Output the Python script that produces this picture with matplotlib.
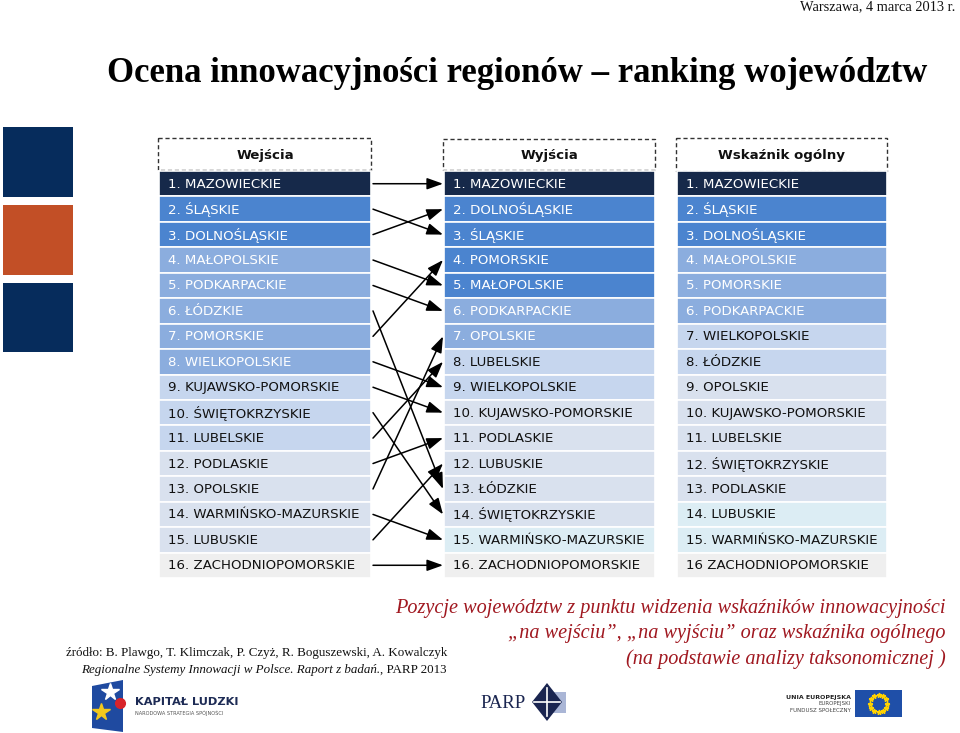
import matplotlib
matplotlib.use("Agg")
import matplotlib.pyplot as plt
from matplotlib.patches import Rectangle, Polygon
import numpy as np

# ---------------- data ----------------
headers = ["Wejścia", "Wyjścia", "Wskaźnik ogólny"]

wejscia_labels = [
    "1. MAZOWIECKIE", "2. ŚLĄSKIE", "3. DOLNOŚLĄSKIE", "4. MAŁOPOLSKIE",
    "5. PODKARPACKIE", "6. ŁÓDZKIE", "7. POMORSKIE", "8. WIELKOPOLSKIE",
    "9. KUJAWSKO-POMORSKIE", "10. ŚWIĘTOKRZYSKIE", "11. LUBELSKIE",
    "12. PODLASKIE", "13. OPOLSKIE", "14. WARMIŃSKO-MAZURSKIE",
    "15. LUBUSKIE", "16. ZACHODNIOPOMORSKIE",
]
wyjscia_labels = [
    "1. MAZOWIECKIE", "2. DOLNOŚLĄSKIE", "3. ŚLĄSKIE", "4. POMORSKIE",
    "5. MAŁOPOLSKIE", "6. PODKARPACKIE", "7. OPOLSKIE", "8. LUBELSKIE",
    "9. WIELKOPOLSKIE", "10. KUJAWSKO-POMORSKIE", "11. PODLASKIE",
    "12. LUBUSKIE", "13. ŁÓDZKIE", "14. ŚWIĘTOKRZYSKIE",
    "15. WARMIŃSKO-MAZURSKIE", "16. ZACHODNIOPOMORSKIE",
]
ogolny_labels = [
    "1. MAZOWIECKIE", "2. ŚLĄSKIE", "3. DOLNOŚLĄSKIE", "4. MAŁOPOLSKIE",
    "5. POMORSKIE", "6. PODKARPACKIE", "7. WIELKOPOLSKIE", "8. ŁÓDZKIE",
    "9. OPOLSKIE", "10. KUJAWSKO-POMORSKIE", "11. LUBELSKIE",
    "12. ŚWIĘTOKRZYSKIE", "13. PODLASKIE", "14. LUBUSKIE",
    "15. WARMIŃSKO-MAZURSKIE", "16 ZACHODNIOPOMORSKIE",
]

# shading group of each row (0 = darkest)
wejscia_groups = [0, 1, 1, 2, 2, 2, 2, 2, 3, 3, 3, 4, 4, 4, 4, 6]
wyjscia_groups = [0, 1, 1, 1, 1, 2, 2, 3, 3, 4, 4, 4, 4, 4, 5, 6]
ogolny_groups = [0, 1, 1, 2, 2, 2, 3, 3, 4, 4, 4, 4, 4, 5, 5, 6]

title = "Ocena innowacyjności regionów – ranking województw"
date_text = "Warszawa, 4 marca 2013 r."
caption_lines = [
    "Pozycje województw z punktu widzenia wskaźników innowacyjności",
    "„na wejściu”, „na wyjściu” oraz wskaźnika ogólnego",
    "(na podstawie analizy taksonomicznej )",
]
source_line1 = "źródło: B. Plawgo, T. Klimczak, P. Czyż, R. Boguszewski, A. Kowalczyk"
source_line2_italic = "Regionalne Systemy Innowacji w Polsce. Raport z badań."
source_line2_normal = ", PARP 2013"

# ---------------- style ----------------
group_colors = ["#16294a", "#4b84cf", "#8badde", "#c6d6ee", "#d9e1ee", "#dcedf4", "#efefef"]
group_text = ["white", "white", "white", "#111111", "#111111", "#111111", "#111111"]

W, H = 960, 733
fig = plt.figure(figsize=(W / 100, H / 100), dpi=100)
ax = fig.add_axes([0, 0, 1, 1])
ax.set_xlim(0, W)
ax.set_ylim(H, 0)
ax.axis("off")

# left decorative squares
for (y0, y1, c) in [(127, 197, "#062c5c"), (205, 275, "#c24f26"), (283, 352, "#062c5c")]:
    ax.add_patch(Rectangle((3, y0), 70, y1 - y0, color=c, lw=0))

# columns
columns = [
    (wejscia_labels, wejscia_groups, 159, 371, 138, 170),
    (wyjscia_labels, wyjscia_groups, 444, 655, 139, 170),
    (ogolny_labels, ogolny_groups, 677, 887, 138, 171),
]
row_top, row_bot = 171, 578
n = 16
rh = (row_bot - row_top) / n

def row_center(i):
    return row_top + (i + 0.5) * rh

for ci, (labels, groups, x0, x1, hy0, hy1) in enumerate(columns):
    # dashed header box
    ax.add_patch(Rectangle((x0 - 1, hy0), (x1 - x0) + 1, hy1 - hy0, facecolor="white",
                           edgecolor="#333333", lw=1.0, linestyle=(0, (3, 2))))
    ax.text((x0 + x1) / 2, (hy0 + hy1) / 2 + 1, headers[ci], ha="center", va="center",
            fontsize=9.6, fontweight="bold", color="#111111", family="DejaVu Sans")
    for i, (lab, g) in enumerate(zip(labels, groups)):
        y = row_top + i * rh
        ax.add_patch(Rectangle((x0, y), x1 - x0, rh, facecolor=group_colors[g],
                               edgecolor="white", lw=1.2))
        ax.text(x0 + 9, row_center(i) + 0.5, lab, ha="left", va="center", fontsize=9.6,
                color=group_text[g], family="DejaVu Sans")

# arrows from inputs ranking to outputs ranking
names_in = [l.split(" ", 1)[1] for l in wejscia_labels]
names_out = [l.split(" ", 1)[1] for l in wyjscia_labels]
for i, name in enumerate(names_in):
    j = names_out.index(name)
    ax.annotate("", xy=(443, row_center(j)), xytext=(373, row_center(i)),
                arrowprops=dict(arrowstyle="-|>,head_length=0.7,head_width=0.25",
                                color="black", lw=1.1,
                                mutation_scale=14, shrinkA=0, shrinkB=0))

# titles
ax.text(955, 7, date_text, ha="right", va="center", fontsize=10.4,
        family="Liberation Serif", color="#111111")
ax.text(517, 73, title, ha="center", va="center", fontsize=25, fontweight="bold",
        family="Liberation Serif", color="black")

# red caption
for k, line in enumerate(caption_lines):
    ax.text(946, 608 + k * 25.5, line, ha="right", va="center", fontsize=14.6,
            style="italic", family="Liberation Serif", color="#a01820")

# source
ax.text(447, 653, source_line1, ha="right", va="center", fontsize=9.4,
        family="Liberation Serif", color="#111111")
fig.canvas.draw()
r = fig.canvas.get_renderer()
t2 = ax.text(447, 670, source_line2_normal, ha="right", va="center", fontsize=9.4,
             family="Liberation Serif", color="#111111")
bb = t2.get_window_extent(renderer=r)
xleft = ax.transData.inverted().transform((bb.x0, bb.y0))[0]
ax.text(xleft, 670, source_line2_italic, ha="right", va="center", fontsize=9.4,
        style="italic", family="Liberation Serif", color="#111111")

# ---- logos (simplified) ----
# Kapitał Ludzki
ax.add_patch(Polygon([(92, 686), (123, 680), (123, 732), (92, 728)], closed=True,
                     facecolor="#1f4aa0", lw=0))
ax.plot([110], [692], marker="*", color="white", markersize=13)
ax.plot([120], [703], marker="o", color="#d8232a", markersize=7)
ax.plot([101], [712], marker="*", color="#f2c81c", markersize=13)
ax.text(135, 702, "KAPITAŁ LUDZKI", ha="left", va="center", fontsize=8.2, fontweight="bold",
        family="DejaVu Sans", color="#1d2b55")
ax.text(135, 713, "NARODOWA STRATEGIA SPÓJNOŚCI", ha="left", va="center", fontsize=3.6,
        family="DejaVu Sans", color="#555555")

# PARP
ax.text(480, 704, "PARP", ha="left", va="center", fontsize=13.5, family="Liberation Serif",
        color="#1a2550")
ax.add_patch(Rectangle((546, 692), 20, 21, facecolor="#aab6d6", lw=0))
ax.add_patch(Polygon([(547, 683), (562, 702), (547, 721), (532, 702)], closed=True,
                     facecolor="#1a2550", lw=0))
ax.plot([534, 560], [702, 702], color="white", lw=1.2)
ax.plot([547, 547], [688, 716], color="white", lw=1.2)

# EU
ax.text(851, 697, "UNIA EUROPEJSKA", ha="right", va="center", fontsize=4.5, fontweight="bold",
        family="DejaVu Sans", color="#222222")
ax.text(851, 704, "EUROPEJSKI", ha="right", va="center", fontsize=4.0,
        family="DejaVu Sans", color="#444444")
ax.text(851, 711, "FUNDUSZ SPOŁECZNY", ha="right", va="center", fontsize=4.0,
        family="DejaVu Sans", color="#444444")
ax.add_patch(Rectangle((855, 690), 47, 27, facecolor="#1f4fa8", lw=0))
ang = np.linspace(0, 2 * np.pi, 12, endpoint=False)
ax.plot(878.5 + 8.5 * np.cos(ang), 703.5 + 8.5 * np.sin(ang), linestyle="none",
        marker="*", color="#ffd200", markersize=3.5)

fig.savefig("out.png", dpi=100)
